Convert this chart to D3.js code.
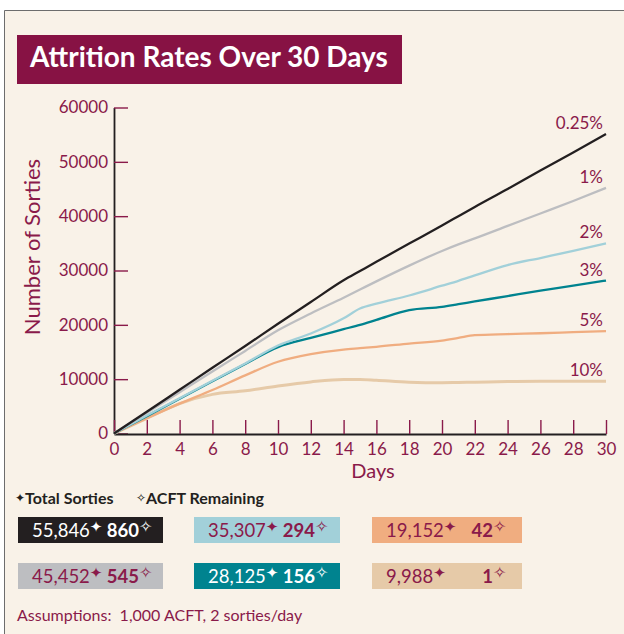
<!DOCTYPE html>
<html><head><meta charset="utf-8">
<script src="https://cdn.jsdelivr.net/npm/d3@7"></script>
<style>body{margin:0;background:#fff}svg{display:block}text{font-family:Lato,"Open Sans",sans-serif}</style>
</head><body>
<script>
const days = [0,2,4,6,8,10,12,14,15,16,18,20,21,22,24,26,28,30];
const s025 = [0,4000,8050,12100,16100,20200,24200,28200,29900,31600,34950,38300,40000,41700,45000,48400,51700,55100];
const s1   = [0,3800,7600,11400,15200,19000,22100,25000,26500,28000,30900,33600,34800,35900,38200,40500,42800,45200];
const s2   = [0,3300,6500,9700,12900,16200,18400,21200,23000,23900,25400,27200,28100,29100,31000,32300,33600,35000];
const s3   = [0,3200,6400,9600,12800,15900,17600,19200,20000,20900,22700,23300,23800,24300,25300,26300,27200,28150];
const s5   = [0,2800,5500,8000,10700,13200,14600,15450,15700,15950,16550,17100,17600,18100,18300,18450,18650,18850];
const s10  = [0,2800,5500,7200,7850,8750,9500,9950,9950,9800,9450,9350,9400,9450,9550,9600,9620,9630];
const seriesNames = ["0.25%","1%","2%","3%","5%","10%"];
const seriesValues = [s025,s1,s2,s3,s5,s10];
const seriesColors = ["#231F20","#BDBEC1","#A2D0D9","#00838F","#F0AD80","#E6CAA8"];
const totals = ["55,846","45,452","35,307","28,125","19,152","9,988"];
const remaining = ["860","545","294","156","42","1"];
const boxText = ["#ffffff","#8A1A4A","#8A1A4A","#ffffff","#8A1A4A","#8A1A4A"];
const yTicks = [0,10000,20000,30000,40000,50000,60000];
const xTicks = d3.range(0,31,2);
const title = "Attrition Rates Over 30 Days";
const maroon = "#8A1A4A";

const W=624,H=634;
const svg = d3.select("body").append("svg").attr("width",W).attr("height",H);
svg.append("rect").attr("width",W).attr("height",H).attr("fill","#fff");
svg.append("rect").attr("x",4.5).attr("y",10).attr("width",W).attr("height",H).attr("fill","#F9F2E8");
svg.append("path").attr("d",`M4.5,${H}V10.5H${W}`).attr("fill","none").attr("stroke","#6d6d6d").attr("stroke-width",1);

// title
svg.append("rect").attr("x",17).attr("y",35).attr("width",385).attr("height",49).attr("fill","#871244");
const tt = svg.append("text").attr("x",30).attr("y",67).attr("fill","#fff").attr("font-weight",700).attr("font-size",29).text(title);
const tw = tt.node().getComputedTextLength();
if (tw>358) tt.attr("font-size",29*358/tw);

const x = d3.scaleLinear().domain([0,30]).range([114,606]);
const y = d3.scaleLinear().domain([0,60000]).range([433.5,107.5]);

// axes
const gy = svg.append("g").attr("transform","translate(114,0)")
  .call(d3.axisLeft(y).tickValues(yTicks).tickFormat(d3.format("d")).tickSizeInner(-14).tickSizeOuter(0).tickPadding(6));
const gx = svg.append("g").attr("transform","translate(0,434)")
  .call(d3.axisBottom(x).tickValues(xTicks).tickSizeInner(-14).tickSizeOuter(0).tickPadding(9));
[gx,gy].forEach(g=>{
  g.select(".domain").attr("stroke","#231F20").attr("stroke-width",1.8);
  g.selectAll(".tick line").attr("stroke",maroon).attr("stroke-width",1.4);
  g.selectAll(".tick text").attr("fill",maroon).attr("font-size",17).attr("font-family","Lato,sans-serif");
});

svg.append("text").attr("transform","translate(40,247) rotate(-90)").attr("text-anchor","middle")
  .attr("fill",maroon).attr("font-size",22).text("Number of Sorties");
svg.append("text").attr("x",373).attr("y",478).attr("text-anchor","middle")
  .attr("fill",maroon).attr("font-size",20).text("Days");

// lines
const line = d3.line().x((d,i)=>x(days[i])).y(d=>y(d)).curve(d3.curveMonotoneX);
const order = [5,4,3,2,1,0];
order.forEach(i=>{
  svg.append("path").attr("d",line(seriesValues[i])).attr("fill","none")
    .attr("stroke",seriesColors[i]).attr("stroke-width",i===5?3:2.3).attr("stroke-linejoin","round");
});
seriesNames.forEach((n,i)=>{
  const v = seriesValues[i];
  svg.append("text").attr("x",x(30)-3).attr("y",y(v[v.length-1])-5).attr("text-anchor","end")
    .attr("fill",maroon).attr("font-size",17).text(n);
});

// legend header
const hdr = svg.append("text").attr("y",504).attr("fill","#231F20").attr("font-weight",700).attr("font-size",16);
hdr.append("tspan").attr("x",15).attr("font-size",12).attr("dy",-2).attr("font-family","DejaVu Sans").text("✦");
hdr.append("tspan").attr("dy",2).text("Total Sorties");
hdr.append("tspan").attr("x",136).attr("font-size",12).attr("dy",-2).attr("font-family","DejaVu Sans").text("✧");
hdr.append("tspan").attr("dy",2).text("ACFT Remaining");

// legend boxes
const colX = [18,194,372], colW=[145,146,150], rowY=[517,563];
seriesNames.forEach((n,i)=>{
  const c = Math.floor(i/2), r = i%2;
  const bx = colX[c], by = rowY[r];
  svg.append("rect").attr("x",bx).attr("y",by).attr("width",colW[c]).attr("height",26).attr("fill",seriesColors[i]);
  const t1 = svg.append("text").attr("x",bx+14).attr("y",by+20).attr("fill",boxText[i]).attr("font-size",18.5);
  t1.append("tspan").text(totals[i]);
  t1.append("tspan").attr("font-size",15).attr("dy",-5).attr("font-family","DejaVu Sans").text("✦");
  svg.append("text").attr("x",bx+121).attr("y",by+20).attr("text-anchor","end").attr("fill",boxText[i])
    .attr("font-size",18.5).attr("font-weight",700).text(remaining[i]);
  svg.append("text").attr("x",bx+121).attr("y",by+15).attr("fill",boxText[i]).attr("font-size",16)
    .attr("font-family","DejaVu Sans").text("✧");
});

svg.append("text").attr("x",17).attr("y",621).attr("fill",maroon).attr("font-size",16)
  .attr("xml:space","preserve").text("Assumptions:  1,000 ACFT, 2 sorties/day");
</script>
</body></html>
